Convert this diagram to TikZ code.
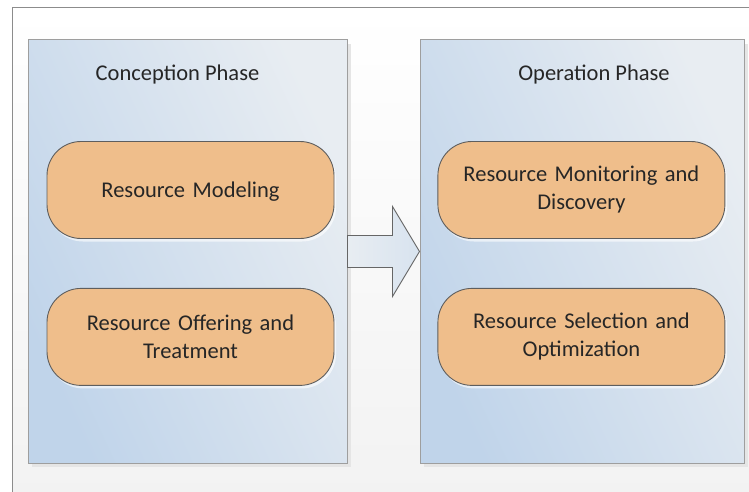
\documentclass[tikz,border=0pt]{standalone}
\usepackage{fontspec}
\setmainfont{Carlito}
\usetikzlibrary{positioning,shadows}
\definecolor{phaseblue}{HTML}{C0D4EA}
\definecolor{phaselight}{HTML}{E8EDF2}
\definecolor{taskfill}{HTML}{EFBE8B}
\definecolor{taskline}{HTML}{5E5E5E}
\definecolor{textgray}{HTML}{262626}
\definecolor{framegray}{HTML}{8C8C8C}
\definecolor{arrowfill}{HTML}{D8E3EF}

\tikzset{
  phase/.style={draw=black!38, line width=1pt, left color=phaseblue, right color=phaselight,
    shading angle=115, minimum height=423pt, inner sep=0pt,
    drop shadow={shadow xshift=4pt, shadow yshift=-4pt, fill=black!10, opacity=1}},
  phasetitle/.style={anchor=base, text=textgray, font=\fontsize{22.5}{28}\selectfont},
  task/.style={draw=taskline, line width=0.9pt, fill=taskfill, rounded corners=34pt,
    minimum width=287pt, minimum height=97pt, text width=270pt, align=center,
    text=textgray, font=\fontsize{22.5}{28}\selectfont,
    drop shadow={shadow xshift=2pt, shadow yshift=-3pt, fill=white, opacity=0.6}},
  blockarrow/.style={draw=black!60, line width=0.9pt, left color=phaselight, right color=arrowfill,
    line join=miter},
}

\begin{document}
\begin{tikzpicture}[x=1pt, y=-1pt]
\useasboundingbox (0,0) rectangle (749,492);
% page background and frame
\fill[top color=white, bottom color=black!5] (12,8) rectangle (749,492);
\draw[framegray, line width=1pt] (12,492) -- (12,8) -- (749,8);

% the two phases
\node[phase, minimum width=319pt] (conc) at (187.5,251.5) {};
\node[phase, minimum width=324pt, right=72pt of conc] (oper) {};
\node[phasetitle] (conct) at (177.5,81) {Conception Phase};
\node[phasetitle] (opert) at (594,81) {Operation Phase};

% tasks
\node[task, text depth=0pt] (model) at (190.5,190) {Resource Modeling};
\node[task, below=49pt of model] (offer) {Resource Offering and\\ Treatment};
\node[task, right=103pt of model] (monit) {Resource Monitoring and\\ Discovery};
\node[task, right=103pt of offer] (select) {Resource Selection and\\ Optimization};

% block arrow between phases
\draw[blockarrow] ([yshift=16pt]conc.east) -- ++(45,0) -- ++(0,-29) -- (oper.west)
  -- ++(-27,45) -- ++(0,-29) -- ([yshift=-16pt]conc.east) -- cycle;
\end{tikzpicture}
\end{document}
